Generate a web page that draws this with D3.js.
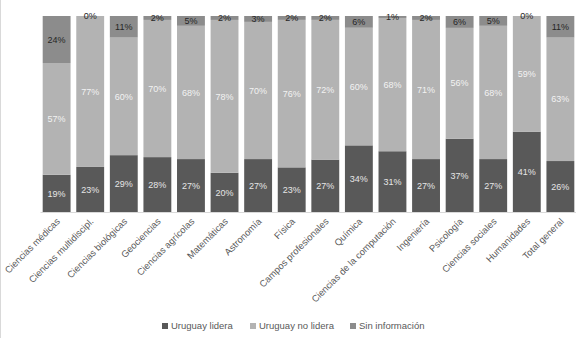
<!DOCTYPE html>
<html>
<head>
<meta charset="utf-8">
<script src="https://cdn.jsdelivr.net/npm/d3@7"></script>
<style>
  body { margin: 0; background: #fff; }
  text { font-family: "Liberation Sans", Arial, sans-serif; }
</style>
</head>
<body>
<div id="chart"></div>
<script>
const width = 576;
const height = 338;

const categories = [
  "Ciencias médicas", "Ciencias multidiscipl.", "Ciencias biológicas", "Geociencias",
  "Ciencias agrícolas", "Matemáticas", "Astronomía", "Física", "Campos profesionales",
  "Química", "Ciencias de la computación", "Ingeniería", "Psicología",
  "Ciencias sociales", "Humanidades", "Total general"
];
const lidera = [19, 23, 29, 28, 27, 20, 27, 23, 27, 34, 31, 27, 37, 27, 41, 26];
const noLidera = [57, 77, 60, 70, 68, 78, 70, 76, 72, 60, 68, 71, 56, 68, 59, 63];
const sinInfo = [24, 0, 11, 2, 5, 2, 3, 2, 2, 6, 1, 2, 6, 5, 0, 11];

const seriesNames = ["Uruguay lidera", "Uruguay no lidera", "Sin información"];
const colors = ["#595959", "#b3b3b3", "#8c8c8c"];
const labelColors = ["#e6e6e6", "#f2f2f2", "#262626"];

const rows = categories.map((c, i) => ({
  cat: c, s0: lidera[i], s1: noLidera[i], s2: sinInfo[i]
}));

const svg = d3.select("#chart").append("svg")
  .attr("width", width)
  .attr("height", height);

// chart frame on the left edge
svg.append("line")
  .attr("x1", 0.5).attr("x2", 0.5)
  .attr("y1", 0).attr("y2", height)
  .attr("stroke", "#d9d9d9");

const x = d3.scaleBand()
  .domain(categories)
  .range([40, 577])
  .paddingInner(0.17)
  .paddingOuter(0.08);

const y = d3.scaleLinear().domain([0, 1]).range([212, 16]);

const stack = d3.stack()
  .keys(["s0", "s1", "s2"])
  .offset(d3.stackOffsetExpand);
const layers = stack(rows);

const groups = svg.selectAll(".serie")
  .data(layers)
  .enter()
  .append("g")
  .attr("class", "serie")
  .attr("fill", (d, i) => colors[i]);

groups.selectAll("rect")
  .data(d => d)
  .enter()
  .append("rect")
  .attr("x", d => x(d.data.cat))
  .attr("y", d => y(d[1]))
  .attr("width", x.bandwidth())
  .attr("height", d => y(d[0]) - y(d[1]));

// value labels
layers.forEach((layer, li) => {
  svg.append("g")
    .selectAll("text")
    .data(layer)
    .enter()
    .append("text")
    .attr("x", d => x(d.data.cat) + x.bandwidth() / 2)
    .attr("y", d => (y(d[0]) + y(d[1])) / 2)
    .attr("dy", "0.35em")
    .attr("text-anchor", "middle")
    .style("font-size", "9px")
    .attr("fill", labelColors[li])
    .text(d => d.data[layer.key] + "%");
});

// category axis
const xAxis = svg.append("g")
  .attr("transform", "translate(0,212)")
  .call(d3.axisBottom(x).tickSize(0).tickPadding(0));
xAxis.select(".domain").attr("stroke", "#d9d9d9").attr("d", "M40.5,0.5H577");
xAxis.selectAll("text")
  .style("font-size", "9.4px")
  .attr("fill", "#595959")
  .attr("text-anchor", "end")
  .attr("dy", null)
  .attr("y", 0)
  .attr("transform", "translate(4,10) rotate(-45)");

// legend
const legend = svg.append("g").attr("transform", "translate(0,326)");
const legendX = [162, 250, 350];
seriesNames.forEach((name, i) => {
  const item = legend.append("g").attr("transform", `translate(${legendX[i]},0)`);
  item.append("rect")
    .attr("x", 0).attr("y", -3)
    .attr("width", 6).attr("height", 6)
    .attr("fill", colors[i]);
  item.append("text")
    .attr("x", 9)
    .attr("dy", "0.35em")
    .style("font-size", "9.5px")
    .attr("fill", "#595959")
    .text(name);
});
</script>
</body>
</html>
